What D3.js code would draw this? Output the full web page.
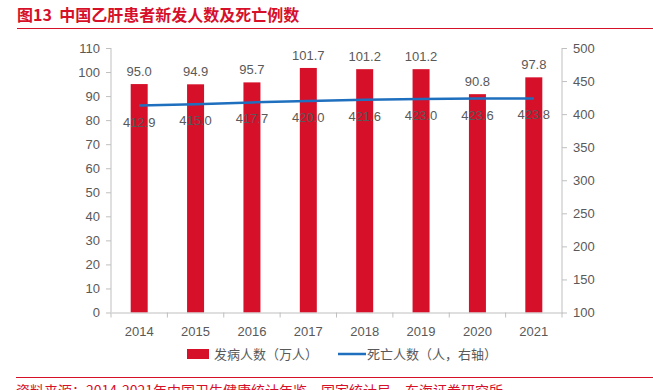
<!DOCTYPE html>
<html>
<head>
<meta charset="utf-8">
<script src="https://cdn.jsdelivr.net/npm/d3@7"></script>
<style>
  body { margin: 0; background: #fff; }
  svg { font-family: "Liberation Sans", Arial, "Noto Sans CJK SC", sans-serif; }
</style>
</head>
<body>
<div id="chart"></div>
<script>
const years = ['2014', '2015', '2016', '2017', '2018', '2019', '2020', '2021']
const newCases = [95.0, 94.9, 95.7, 101.7, 101.2, 101.2, 90.8, 97.8]
const deaths = [412.9, 415.0, 417.7, 420.0, 421.6, 423.0, 423.6, 423.8]
const leftTicks = [0, 10, 20, 30, 40, 50, 60, 70, 80, 90, 100, 110]
const rightTicks = [100, 150, 200, 250, 300, 350, 400, 450, 500]

const width = 653, height = 390
const red = '#d7102a', blue = '#1f6fbf', grey = '#595959', axisGrey = '#bfbfbf'
const cjk = '"Noto Sans CJK SC", sans-serif'

const svg = d3.select('#chart').append('svg')
  .attr('width', width)
  .attr('height', height)

// title + rule
svg.append('text')
  .attr('x', 17).attr('y', 21)
  .attr('fill', red)
  .attr('font-size', 16)
  .attr('font-weight', 'bold')
  .style('font-family', cjk)
  .style('white-space', 'pre')
  .text('图13  中国乙肝患者新发人数及死亡例数')

svg.append('line')
  .attr('x1', 17).attr('x2', width)
  .attr('y1', 28.5).attr('y2', 28.5)
  .attr('stroke', red).attr('stroke-width', 1.2)

const x = d3.scaleBand().domain(years).range([111, 562])
const yL = d3.scaleLinear().domain([0, 110]).range([312.5, 48])
const yR = d3.scaleLinear().domain([100, 500]).range([312.5, 48])

// left axis
const gL = svg.append('g')
  .attr('transform', 'translate(111,0)')
  .call(d3.axisLeft(yL).tickValues(leftTicks).tickSize(5).tickPadding(6))
// right axis
const gR = svg.append('g')
  .attr('transform', 'translate(562,0)')
  .call(d3.axisRight(yR).tickValues(rightTicks).tickSize(5).tickPadding(6))

;[gL, gR].forEach(g => {
  g.select('.domain').attr('stroke', axisGrey).attr('d', 'M0,48V312.5')
  g.selectAll('.tick line').attr('stroke', axisGrey)
  g.selectAll('.tick text').attr('fill', grey).attr('font-size', 13)
})

// bars
svg.append('g').selectAll('rect')
  .data(newCases)
  .join('rect')
  .attr('x', (d, i) => x(years[i]) + x.bandwidth() / 2 - 8.5)
  .attr('width', 17)
  .attr('y', d => yL(d))
  .attr('height', d => yL(0) - yL(d))
  .attr('fill', red)

// bottom axis
const gB = svg.append('g')
  .attr('transform', 'translate(0,312.5)')
  .call(d3.axisBottom(x).tickSize(0).tickPadding(14))
gB.select('.domain').attr('stroke', axisGrey)
gB.selectAll('.tick text').attr('fill', grey).attr('font-size', 13)
gB.selectAll('.sep')
  .data(years.concat(['end']))
  .join('line')
  .attr('class', 'sep')
  .attr('x1', (d, i) => 111 + i * x.step())
  .attr('x2', (d, i) => 111 + i * x.step())
  .attr('y1', 0).attr('y2', 5)
  .attr('stroke', axisGrey)

// line
const line = d3.line()
  .x((d, i) => x(years[i]) + x.bandwidth() / 2)
  .y(d => yR(d))
svg.append('path')
  .datum(deaths)
  .attr('d', line)
  .attr('fill', 'none')
  .attr('stroke', blue)
  .attr('stroke-width', 2.5)

// bar labels
svg.append('g').selectAll('text')
  .data(newCases)
  .join('text')
  .attr('x', (d, i) => x(years[i]) + x.bandwidth() / 2)
  .attr('y', d => yL(d) - 8)
  .attr('text-anchor', 'middle')
  .attr('fill', grey)
  .attr('font-size', 13)
  .text(d => d.toFixed(1))

// line labels
svg.append('g').selectAll('text')
  .data(deaths)
  .join('text')
  .attr('x', (d, i) => x(years[i]) + x.bandwidth() / 2)
  .attr('y', d => yR(d) + 21)
  .attr('text-anchor', 'middle')
  .attr('fill', grey)
  .attr('font-size', 13)
  .text(d => d.toFixed(1))

// legend
const lg = svg.append('g').attr('transform', 'translate(0,354)')
lg.append('rect').attr('x', 187).attr('y', -5).attr('width', 22).attr('height', 10).attr('fill', red)
lg.append('text').attr('x', 214).attr('y', 5).attr('fill', grey).attr('font-size', 13)
  .style('font-family', cjk).text('发病人数（万人）')
lg.append('line').attr('x1', 338).attr('x2', 366).attr('y1', 0).attr('y2', 0)
  .attr('stroke', blue).attr('stroke-width', 2.5)
lg.append('text').attr('x', 367).attr('y', 5).attr('fill', grey).attr('font-size', 13)
  .style('font-family', cjk).text('死亡人数（人，右轴）')

// source
svg.append('line')
  .attr('x1', 16).attr('x2', width)
  .attr('y1', 377.5).attr('y2', 377.5)
  .attr('stroke', red).attr('stroke-width', 1.2)
svg.append('text')
  .attr('x', 16).attr('y', 396)
  .attr('fill', red)
  .attr('font-size', 14)
  .style('font-family', cjk)
  .text('资料来源：2014-2021年中国卫生健康统计年鉴，国家统计局，东海证券研究所')
</script>
</body>
</html>
